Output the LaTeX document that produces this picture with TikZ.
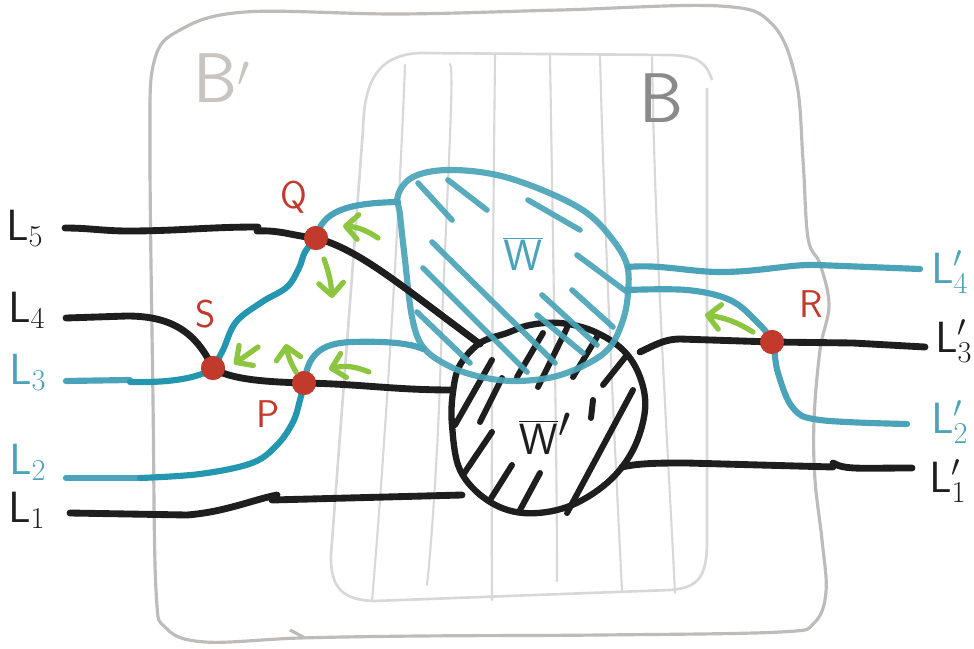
\documentclass[tikz,border=0pt]{standalone}
\usetikzlibrary{arrows.meta}
\definecolor{tealc}{RGB}{74,163,184}
\definecolor{tealdk}{RGB}{36,150,176}
\definecolor{blk}{RGB}{30,30,30}
\definecolor{redc}{RGB}{193,58,43}
\definecolor{grn}{RGB}{140,198,63}
\definecolor{greyout}{RGB}{190,188,186}
\definecolor{greyin}{RGB}{216,216,216}
\definecolor{greyB}{RGB}{138,138,138}
\definecolor{greyBp}{RGB}{200,196,192}
\tikzset{
  blkline/.style={draw=blk,line width=3.9pt,line cap=round,line join=round},
  tealline/.style={draw=tealc,line width=3.5pt,line cap=round,line join=round},
  tealdkline/.style={draw=tealdk,line width=3.5pt,line cap=round,line join=round},
  thatch/.style={draw=tealc,line width=3.2pt,line cap=round,opacity=0.92},
  bhatch/.style={draw=blk,line width=3.4pt,line cap=round},
  outerbox/.style={draw=greyout,line width=1.8pt,line join=round},
  innerbox/.style={draw=greyin,line width=1.5pt,line join=round},
  vline/.style={draw=greyin,line width=1.2pt,line cap=round},
  reddot/.style={circle,fill=redc,inner sep=0pt,minimum size=0.48cm},
  garrow/.style={draw=grn,line width=3pt,line cap=round,-{Straight Barb[length=7pt,width=14pt,round]}},
  lbl/.style={font=\fontsize{26}{28}\selectfont,inner sep=0pt},
  ptlbl/.style={font=\sffamily\fontsize{22}{24}\selectfont,text=redc,inner sep=0pt},
  wlbl/.style={font=\fontsize{34}{36}\selectfont,inner sep=0pt},
  blbl/.style={font=\sffamily\fontsize{40}{44}\selectfont,inner sep=0pt}
}
\begin{document}
\begin{tikzpicture}[x=0.02cm,y=-0.02cm]
\useasboundingbox (0,0) rectangle (974,649);
\fill[white] (0,0) rectangle (974,649);

% outer box B'
\draw[outerbox] plot[smooth cycle,tension=0.6] coordinates {(245,12) (400,14) (560,10) (720,6) (772,24) (796,80) (803,160) (808,238) (820,264) (829,305) (820,350) (814,420) (815,480) (822,540) (826,592) (814,623) (780,632) (600,635) (420,636) (300,638) (205,642) (166,628) (156,590) (153,400) (150,150) (154,62) (180,30)};
\draw[outerbox] (290,630) -- (305,638);

% inner box B
\draw[innerbox] (712,80) .. controls (705,58) and (692,56) .. (670,55) -- (420,53) .. controls (375,55) and (364,85) .. (363,130) -- (331,555) .. controls (330,590) and (345,600) .. (374,601) -- (670,590) .. controls (700,588) and (707,575) .. (707,540) -- (707,88);

% vertical hatch lines in B
\draw[vline] (405,65) .. controls (400,200) and (385,450) .. (372,601);
\draw[vline] (450,64) .. controls (455,70) and (446,200) .. (440,381) .. controls (437,470) and (430,560) .. (427,585);
\draw[vline] (495,55) .. controls (493,250) and (491,450) .. (492,600);
\draw[vline] (550,55) .. controls (553,250) and (557,450) .. (557,581);
\draw[vline] (600,55) .. controls (605,250) and (615,450) .. (622,591);
\draw[vline] (652,57) .. controls (655,250) and (668,450) .. (675,593);

% labels B', B
\node[blbl,text=greyBp] (Bp) at (222,78) {B$'$};
\node[blbl,text=greyB] (Bb) at (661,98) {B};

% W' black circle
\draw[blk,line width=3.6pt] plot[smooth cycle,tension=0.6] coordinates {(530,325) (560,323) (593,331) (623,350) (640,377) (645,410) (633,450) (607,483) (567,507) (523,513) (487,500) (460,470) (452,425) (453,392) (460,365) (480,343) (507,333)};
\draw[bhatch] (455,425) -- (492,360);
\draw[bhatch] (480,422) -- (502,378);
\draw[bhatch] (463,475) -- (492,432);
\draw[bhatch] (490,500) -- (512,465);
\draw[bhatch] (520,510) -- (540,473);
\draw[bhatch] (567,513) -- (633,390);
\draw[bhatch] (591,418) -- (593,400);
\draw[bhatch] (603,385) -- (627,355);
\draw[bhatch] (517,377) -- (543,333);
\draw[bhatch] (538,387) -- (567,328);
\draw[bhatch] (573,377) -- (597,337);
\node[wlbl,text=blk] (Wp) at (545,434) {$\overline{\mathsf{W}}'$};

% W teal blob
\draw[tealline,opacity=0.92] plot[smooth cycle,tension=0.6] coordinates {(398,195) (413,177) (447,170) (497,175) (547,192) (587,213) (613,240) (627,265) (628,293) (623,320) (610,347) (587,364) (553,377) (513,381) (477,376) (447,365) (423,347) (412,317) (405,260) (400,215)};
\draw[thatch] (418,183) -- (452,220);
\draw[thatch] (448,180) -- (487,210);
\draw[thatch] (528,200) -- (580,230);
\draw[thatch] (432,242) -- (555,363);
\draw[thatch] (423,268) -- (527,372);
\draw[thatch] (417,312) -- (470,363);
\draw[thatch] (542,295) -- (597,345);
\draw[thatch] (572,290) -- (613,327);
\draw[thatch] (537,315) -- (583,353);
\draw[thatch] (577,255) -- (627,292);
\node[wlbl,text=tealc] (W) at (523,254) {$\overline{\mathsf{W}}$};

% red points
\node[reddot] (Q) at (316,238) {};
\node[reddot] (S) at (213,368) {};
\node[reddot] (P) at (304,383) {};
\node[reddot] (R) at (772,342) {};

% free ends
\coordinate (l5a) at (65,228);
\coordinate (l4a) at (66,318);
\coordinate (l3a) at (66,381);
\coordinate (l2a) at (66,478);
\coordinate (l1a) at (70,513);
\coordinate (r4) at (920,269);
\coordinate (r3) at (925,347);
\coordinate (r2) at (907,424);
\coordinate (r1) at (912,468);
\coordinate (wq) at (398,202);
\coordinate (wp) at (423,349);
\coordinate (w4) at (628,267);
\coordinate (w2) at (627,290);
\coordinate (wpa) at (480,344);
\coordinate (wpb) at (452,390);
\coordinate (wpc) at (462,495);
\coordinate (wpd) at (640,352);
\coordinate (wpe) at (622,467);

% black lines
\draw[blkline] (l5a) to[out=0,in=180] (128,231) to[out=0,in=180] (258,227);
\draw[blkline] (257,231) to[out=3,in=175] (Q.center) .. controls (360,250) and (400,285) .. (wpa);
\draw[blkline] (l4a) -- (127,316) .. controls (175,316) and (197,335) .. (S.center);
\draw[blkline] (S.center) .. controls (230,380) and (270,382) .. (P.center) to[out=-1,in=180] (wpb);
\draw[blkline] (l1a) -- (187,515) .. controls (225,512) and (252,500) .. (277,495);
\draw[blkline] (272,500) -- (wpc);
\draw[blkline] (wpd) .. controls (655,345) and (665,339) .. (680,339) -- (R.center) -- (853,343) -- (r3);
\draw[blkline] (wpe) .. controls (640,463) and (660,463) .. (687,463) -- (833,467);
\draw[blkline] (833,463) .. controls (845,470) and (860,468) .. (r1);

% teal lines
\draw[tealline] (l3a) -- (130,380);
\draw[tealdkline] (130,382) .. controls (170,383) and (200,378) .. (S.center);
\draw[tealdkline] plot[smooth,tension=0.6] coordinates {(S.center) (223,350) (236,322) (262,302) (287,287) (299,268) (305,252) (Q.center)};
\draw[tealline] (Q.center) .. controls (322,212) and (345,203) .. (wq);
\draw[tealline] (l2a) -- (140,478);
\draw[tealdkline] plot[smooth,tension=0.6] coordinates {(140,478) (200,474) (252,463) (277,445) (293,422) (300,400) (P.center)};
\draw[tealline] (P.center) .. controls (308,355) and (320,343) .. (352,342) .. controls (385,341) and (410,343) .. (wp);
\draw[tealline] (w4) .. controls (660,264) and (690,272) .. (720,272) .. controls (760,272) and (790,264) .. (817,265) -- (r4);
\draw[tealline] plot[smooth,tension=0.6] coordinates {(w2) (687,290) (730,300) (757,322) (R.center) (778,373) (793,408) (820,420) (r2)};

% red points on top
\node[reddot] at (Q) {};
\node[reddot] at (S) {};
\node[reddot] at (P) {};
\node[reddot] at (R) {};

% green arrows
\coordinate (g1a) at (378,238); \coordinate (g1b) at (343,226);
\coordinate (g2a) at (324,259); \coordinate (g2b) at (332,298);
\coordinate (g3a) at (258,347); \coordinate (g3b) at (234,364);
\coordinate (g4a) at (296,372); \coordinate (g4b) at (286,344);
\coordinate (g5a) at (369,372); \coordinate (g5b) at (329,369);
\coordinate (g6a) at (753,332); \coordinate (g6b) at (705,315);
\draw[garrow] (g1a) to[bend right=15] (g1b);
\draw[garrow] (g2a) to[bend left=8] (g2b);
\draw[garrow] (g3a) -- (g3b);
\draw[garrow] (g4a) to[bend left=10] (g4b);
\draw[garrow] (g5a) to[bend right=18] (g5b);
\draw[garrow] (g6a) to[bend right=12] (g6b);

% point labels
\node[ptlbl] (Ql) at (294,197) {Q};
\node[ptlbl] (Sl) at (206,314) {S};
\node[ptlbl] (Pl) at (268,414) {P};
\node[ptlbl] (Rl) at (811,304) {R};

% line labels
\node[lbl,anchor=base west,text=blk] (L5) at (6,240) {$\mathsf{L}_5$};
\node[lbl,anchor=base west,text=blk] (L4) at (8,322) {$\mathsf{L}_4$};
\node[lbl,anchor=base west,text=tealc] (L3) at (9,384) {$\mathsf{L}_3$};
\node[lbl,anchor=base west,text=tealc] (L2) at (9,474) {$\mathsf{L}_2$};
\node[lbl,anchor=base west,text=blk] (L1) at (8,522) {$\mathsf{L}_1$};
\node[lbl,anchor=base west,text=tealc] (R4) at (931,283) {$\mathsf{L}'_4$};
\node[lbl,anchor=base west,text=blk] (R3) at (935,352) {$\mathsf{L}'_3$};
\node[lbl,anchor=base west,text=tealc] (R2) at (931,433) {$\mathsf{L}'_2$};
\node[lbl,anchor=base west,text=blk] (R1) at (929,492) {$\mathsf{L}'_1$};
\end{tikzpicture}
\end{document}
